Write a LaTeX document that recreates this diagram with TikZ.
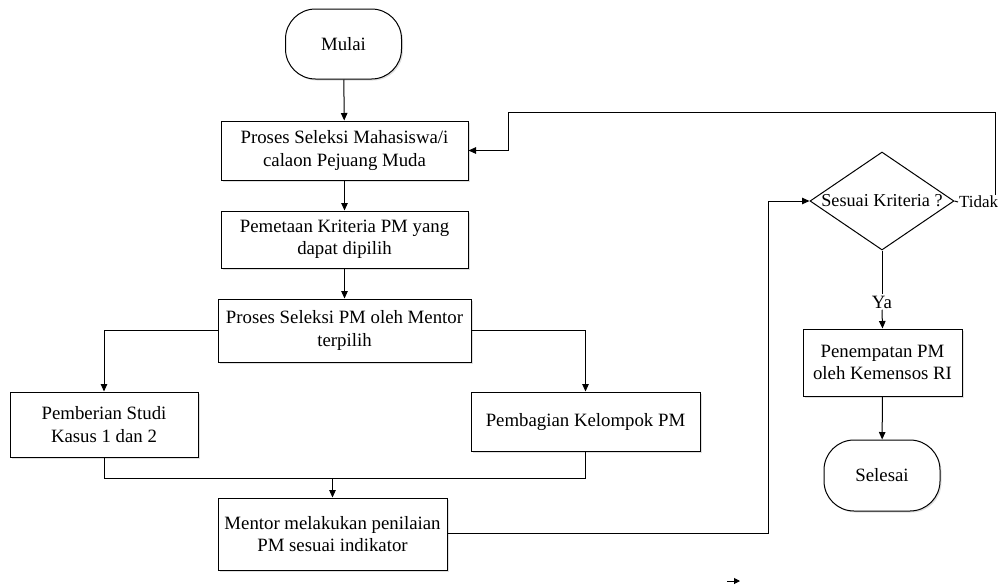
\documentclass[tikz,border=0pt]{standalone}
\usepackage{fontspec}
\setmainfont{Liberation Serif}
\usetikzlibrary{shapes.geometric,arrows.meta,shadows}
\begin{document}
\begin{tikzpicture}[x=1pt,y=-1pt,
  font=\fontsize{18.8}{22.5}\selectfont,
  line width=1pt,
  sh/.style={drop shadow={opacity=0.25,shadow xshift=1.5pt,shadow yshift=-1.5pt}},
  procbox/.style={draw,fill=white,sh,align=center,inner sep=0pt},
  term/.style={draw,fill=white,sh,rounded corners=30pt,align=center,inner sep=0pt},
  decision/.style={draw,fill=white,diamond,inner sep=0pt,minimum width=144pt,minimum height=98pt},
  arr/.style={-{Triangle[length=7.5pt,width=6.5pt]}},
  plain/.style={inner sep=1pt}
]
\useasboundingbox (0,0) rectangle (1003,587);

\node[term,minimum width=116pt,minimum height=70pt] (start) at (343.5,44) {Mulai};
\node[procbox,minimum width=247pt,minimum height=59pt] (b1) at (344.5,150.5) {Proses Seleksi Mahasiswa/i\\calaon Pejuang Muda};
\node[procbox,minimum width=247pt,minimum height=57pt] (b2) at (344.5,239.5) {Pemetaan Kriteria PM yang\\dapat dipilih};
\node[procbox,minimum width=253pt,minimum height=63pt] (b3) at (344.5,330.5) {Proses Seleksi PM oleh Mentor\\terpilih};
\node[procbox,minimum width=188pt,minimum height=65pt] (b4) at (104,424.5) {Pemberian Studi\\Kasus 1 dan 2};
\node[procbox,minimum width=229pt,minimum height=59pt] (b5) at (585.5,421.5) {Pembagian Kelompok PM};
\node[procbox,minimum width=229pt,minimum height=72pt] (b6) at (332.5,534) {Mentor melakukan penilaian\\PM sesuai indikator};

\node[decision] (d) at (882,201) {};
\node[plain,font=\fontsize{18.2}{22}\selectfont] (dt) at (d.center) {Sesuai Kriteria ?};
\node[plain,anchor=west,inner sep=0.5pt,font=\fontsize{17}{20}\selectfont] (tidak) at (958,202) {Tidak};
\node[plain] (ya) at (882,302) {Ya};
\node[procbox,minimum width=159pt,minimum height=67pt] (b7) at (882.5,362.5) {Penempatan PM\\oleh Kemensos RI};
\node[term,minimum width=116pt,minimum height=71pt] (end) at (882,475.5) {Selesai};

\coordinate (j) at (332.5,478);
\coordinate (m1) at (768,533);
\coordinate (t1) at (995,112);
\coordinate (t2) at (508,112);
\coordinate (s1) at (727,581);
\coordinate (s2) at (740,581);

\draw[arr] (start) -- (b1);
\draw[arr] (b1) -- (b2);
\draw[arr] (b2) -- (b3);
\draw[arr] (b3.west) -| (b4.north);
\draw[arr] (b3.east) -| (b5.north);
\draw (b4.south) |- (j);
\draw (b5.south) |- (j);
\draw[arr] (j) -- (b6.north);
\draw[arr] (b6.east |- m1) -- (m1) |- (d.west);
\draw (d.east) -- (tidak.west);
\draw[arr] (tidak.north -| t1) -- (t1) -- (t2) |- (b1.east);
\draw (d.south) -- (ya.north);
\draw[arr] (ya.south) -- (b7.north);
\draw[arr] (b7) -- (end);
\draw[-{Triangle[length=6pt,width=6pt]}] (s1) -- (s2);
\end{tikzpicture}
\end{document}
